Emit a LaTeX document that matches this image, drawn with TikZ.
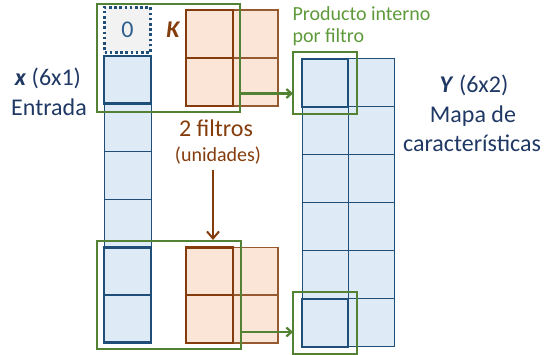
\documentclass[tikz,border=0pt]{standalone}
\usepackage{fontspec}
\setmainfont{Carlito}
\usetikzlibrary{arrows.meta}
\definecolor{bstroke}{HTML}{1F4E79}
\definecolor{bfill}{HTML}{DEEBF7}
\definecolor{gline}{HTML}{548235}
\definecolor{gtext}{HTML}{5E9A3A}
\definecolor{brn}{HTML}{843C0C}
\definecolor{ofill}{HTML}{FBE5D6}
\definecolor{ttext}{HTML}{1F3864}
\definecolor{zfill}{HTML}{F2F2F2}
\definecolor{ztext}{HTML}{2E5E8E}
\tikzset{
  base/.style={inner sep=0pt, outer sep=0pt},
  cell/.style={base, draw=bstroke, fill=bfill, line width=1pt},
  xcell/.style={cell, minimum width=47pt, minimum height=47.8pt},
  ycell/.style={cell, minimum width=46pt, minimum height=48pt},
  thickcell/.style={base, draw=bstroke, line width=2.8pt},
  kfront/.style={base, draw=brn, fill=ofill, line width=2.8pt, minimum width=47pt, minimum height=48pt},
  kback/.style={base, draw=brn!85, fill=ofill, line width=1.2pt, minimum width=45pt, minimum height=48pt},
  gbox/.style={base, draw=gline, line width=2.2pt},
  garrow/.style={draw=gline, line width=2.2pt, -{Straight Barb[length=5pt,width=9pt]}},
  barrow/.style={draw=brn, line width=2pt, -{Straight Barb[length=7pt,width=12pt]}},
  big/.style={font=\fontsize{24}{28}\selectfont, text=ttext, anchor=base},
  gtxt/.style={font=\fontsize{20}{24}\selectfont, text=gtext, anchor=base west},
  btxt/.style={text=brn, anchor=base},
}
\begin{document}
\begin{tikzpicture}[x=1pt,y=-1pt]
\useasboundingbox (0,0) rectangle (544,355);
% left column x
\foreach \i [evaluate=\i as \yy using 56+47.8*(\i-0.5)] in {1,...,6}
  \node[xcell] (x\i) at (127.5,\yy) {};
\node[base, draw=bstroke, fill=zfill, line width=2.4pt, dash pattern=on 2.6pt off 2.6pt, minimum width=46pt, minimum height=45pt] (z0) at (127.5,30) {};
\node[font=\fontsize{24}{28}\selectfont, text=ztext] (zt) at (z0) {0};
\node[thickcell, minimum width=47pt, minimum height=47.8pt] (tx1) at (x1) {};
\node[thickcell, minimum width=47pt, minimum height=47.8pt] (tx5) at (x5) {};
\node[thickcell, minimum width=47pt, minimum height=47.8pt] (tx6) at (x6) {};
% kernels
\foreach \n/\yy in {a/34, b/82, c/271.5, d/319}{
  \node[kback] (kb\n) at (255.5,\yy) {};
}
\foreach \n/\yy in {a/34, b/82, c/271.5, d/319}{
  \node[kfront] (kf\n) at (209.5,\yy) {};
}
\node[font=\fontsize{24}{28}\selectfont\bfseries\itshape, text=brn, anchor=base] (K) at (173,38) {K};
% Y grid
\foreach \r in {1,...,6}{
  \foreach \c/\xx in {1/325, 2/371}{
    \node[ycell] (y\r\c) at (\xx,{59+48*(\r-0.5)}) {};
  }
}
\node[thickcell, minimum width=46pt, minimum height=48pt] (ty1) at (y11) {};
\node[thickcell, minimum width=46pt, minimum height=48pt] (ty6) at (y61) {};
% green boxes
\node[gbox, minimum width=143pt, minimum height=108pt] (gt) at (168.5,58) {};
\node[gbox, minimum width=144pt, minimum height=108pt] (gb) at (169,295) {};
\node[gbox, minimum width=64pt, minimum height=62pt] (gyt) at (325,83) {};
\node[gbox, minimum width=64pt, minimum height=62pt] (gyb) at (325,323) {};
% green arrows
\coordinate (a1) at (240,93.5);
\coordinate (a2) at (241,332);
\draw[garrow] (a1) -- (gyt.west |- a1);
\draw[garrow] (a2) -- (gyb.west |- a2);
% texts
\node[gtxt] (pi1) at (289,21) {Producto interno};
\node[gtxt] (pi2) at (289,43) {por filtro};
\node[big] (xl) at (48,86) {\textbf{\textit{x}} (6x1)};
\node[big] (ent) at (49,116) {Entrada};
\node[big] (yl) at (474,93) {\textbf{\textit{Y}} (6x2)};
\node[big] (mapa) at (473,123) {Mapa de};
\node[big] (car) at (472,152) {características};
\node[btxt, font=\fontsize{24}{28}\selectfont] (f2) at (216,137) {2 filtros};
\node[btxt, font=\fontsize{20}{24}\selectfont] (un) at (218,162) {(unidades)};
\coordinate (bs) at (213,170);
\coordinate (bt) at (213,240);
\draw[barrow] (bs) -- (bt);
\end{tikzpicture}
\end{document}
